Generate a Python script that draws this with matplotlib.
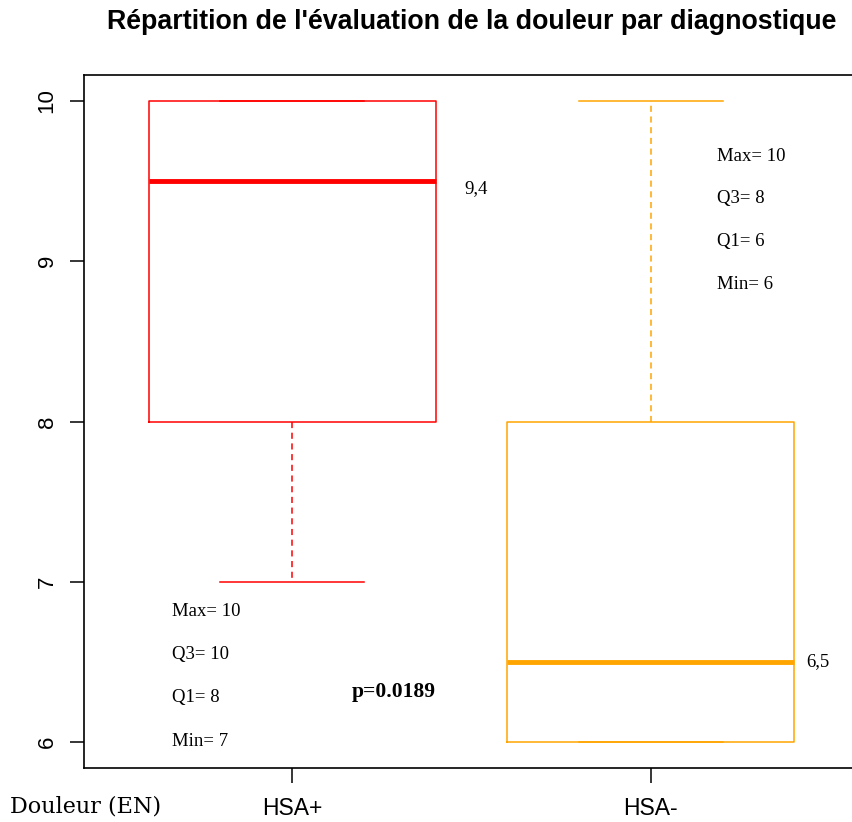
import matplotlib.pyplot as plt
import numpy as np

# -- data
groups   = ['HSA+', 'HSA-']
q1       = [8, 6]
q3       = [10, 8]
medians  = [9.5, 6.5]
whis_lo  = [7, 6]
whis_hi  = [10, 10]
colors   = ['red', 'orange']
med_lab  = ['9,4', '6,5']
stat_lab = [['Max= 10', 'Q3= 10', 'Q1= 8', 'Min= 7'],
            ['Max= 10', 'Q3= 8', 'Q1= 6', 'Min= 6']]
pvalue   = 'p=0.0189'

fig = plt.figure(figsize=(8.52, 8.22), dpi=100)
ax  = fig.add_axes([84/852, 1-768/822, 775/852, 693/822])

stats = [dict(q1=q1[i], q3=q3[i], med=medians[i], whislo=whis_lo[i],
              whishi=whis_hi[i], fliers=[], label=groups[i]) for i in range(2)]
art = ax.bxp(stats, positions=[1, 2], widths=0.8, capwidths=0.4,
             showfliers=False, patch_artist=False)
for i, c in enumerate(colors):
    art['boxes'][i].set(color=c, linewidth=1.1)
    art['medians'][i].set(color=c, linewidth=3.5)
    for w in art['whiskers'][2*i:2*i+2]:
        w.set(color=c, linestyle=(0, (4, 3)), linewidth=1.1)
    for cp in art['caps'][2*i:2*i+2]:
        cp.set(color=c, linewidth=1.1)

ax.set_xlim(0.42, 2.58)
ax.set_ylim(5.838, 10.162)
ax.set_yticks([6, 7, 8, 9, 10])
ax.set_yticklabels(['6', '7', '8', '9', '10'], rotation=90, va='center',
                   fontsize=16, family='Liberation Sans')
ax.set_xticks([1, 2])
ax.set_xticklabels(groups, fontsize=16.5, family='Liberation Sans')
ax.tick_params(axis='y', length=10, width=1.1, pad=9)
ax.tick_params(axis='x', length=11, width=1.1, pad=10)
for s in ax.spines.values():
    s.set_linewidth(1.2)

serif = 'Liberation Serif'
# medians labels
ax.text(1.481, 9.455, med_lab[0], fontsize=13.5, family=serif, va='center')
ax.text(2.434, 6.5, med_lab[1], fontsize=13.5, family=serif, va='center')

# min/max/quartile notes
for j, t in enumerate(stat_lab[0]):
    ax.text(0.665, 6.815 - j*0.27, t, fontsize=13.5, family=serif, va='center')
for j, t in enumerate(stat_lab[1]):
    ax.text(2.183, 9.655 - j*0.266, t, fontsize=13.5, family=serif, va='center')
ax.text(1.166, 6.31, pvalue, fontsize=15.5, weight='bold', family=serif, va='center')

fig.text(471.5/852, 1-22/822, "Répartition de l'évaluation de la douleur par diagnostique",
         ha='center', va='center', fontsize=19.25, weight='bold', family='Liberation Sans')
fig.text(10/852, 1-806.5/822, 'Douleur (EN)', ha='left', va='center',
         fontsize=16, family='DejaVu Serif')

plt.savefig('out.png', dpi=100)
